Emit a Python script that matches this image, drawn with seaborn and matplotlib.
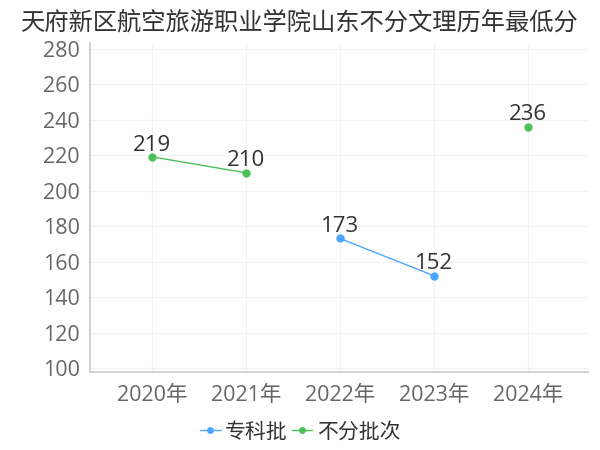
import numpy as np
import pandas as pd
import matplotlib
matplotlib.use('Agg')
import matplotlib.pyplot as plt
import seaborn as sns

title = '天府新区航空旅游职业学院山东不分文理历年最低分'
years = ['2020年', '2021年', '2022年', '2023年', '2024年']
series_names = ['专科批', '不分批次']
zhuanke = [np.nan, np.nan, 173, 152, np.nan]
bufen = [219, 210, np.nan, np.nan, 236]
colors = ['#4da6ff', '#4cc15a']

sns.set_theme(style='white')
plt.rcParams['font.family'] = ['Open Sans', 'Noto Sans CJK SC', 'DejaVu Sans']

# long table, with a segment id so gaps are not joined
rows = []
for name, vals in zip(series_names, [zhuanke, bufen]):
    seg = 0
    for i, v in enumerate(vals):
        if np.isnan(v):
            seg += 1
            continue
        rows.append({'x': i, 'score': v, 'batch': name, 'seg': f'{name}-{seg}'})
df = pd.DataFrame(rows)

fig = plt.figure(figsize=(6, 4.5), dpi=100)
ax = fig.add_axes([0.15, 0.173, 0.83, 0.731])

sns.lineplot(data=df, x='x', y='score', hue='batch', units='seg', estimator=None,
             hue_order=series_names, palette=colors, marker='o', markersize=6,
             markeredgewidth=0, lw=1, ax=ax, legend=False)

for _, r in df.iterrows():
    ax.annotate(f"{int(r['score'])}", (r['x'], r['score']), xytext=(0, 8.5),
                textcoords='offset points', ha='center', va='center',
                fontsize=16, color='#333333')

ax.set_xlim(-0.66, 4.64)
ax.set_ylim(97.7, 283)
ax.set_yticks(range(100, 281, 20))
ax.set_xticks(range(len(years)))
ax.set_xticklabels(years)
ax.set_xlabel('')
ax.set_ylabel('')
ax.tick_params(axis='both', labelsize=15.5, colors='#666666', length=4, width=0.8)
ax.tick_params(axis='both', color='#cccccc')
ax.tick_params(axis='x', pad=5)
ax.grid(True, color='#f2f2f2', lw=0.8)
for s in ['top', 'right']:
    ax.spines[s].set_visible(False)
for s in ['left', 'bottom']:
    ax.spines[s].set_color('#cccccc')

handles = [plt.Line2D([], [], color=c, marker='o', markersize=5, markeredgewidth=0, lw=1)
           for c in colors]
fig.legend(handles, series_names, loc='center', bbox_to_anchor=(0.5, 0.04), ncol=2,
           frameon=False, fontsize=15, handlelength=1.0, handletextpad=0.2,
           columnspacing=0.2, labelcolor='#333333')

fig.suptitle(title, x=0.5, y=0.975, fontsize=17.5, color='#333333')

fig.savefig('out.png', dpi=100)
